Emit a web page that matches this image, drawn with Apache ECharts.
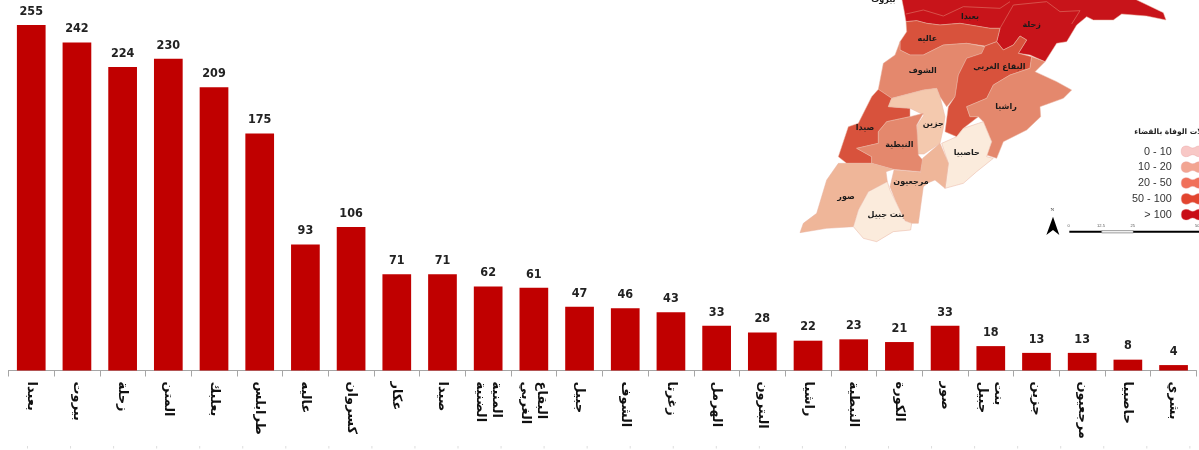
<!DOCTYPE html>
<html dir="ltr"><head><meta charset="utf-8">
<style>html,body{margin:0;padding:0;background:#fff;overflow:hidden}#c{width:1199px;height:450px}</style>
<script src="https://cdn.jsdelivr.net/npm/echarts@6/dist/echarts.min.js"></script>
</head><body><div id="c"></div>
<script>
const categories = ['بعبدا','بيروت','زحلة','المتن','بعلبك','طرابلس','عاليه','كسروان','عكار','صيدا','المنية\nالضنية','البقاع\nالغربي','جبيل','الشوف','زغرتا','الهرمل','البترون','راشيا','النبطية','الكورة','صور','بنت\nجبيل','جزين','مرجعيون','حاصبيا','بشري'];
const deaths = [255,242,224,230,209,175,93,106,71,71,62,61,47,46,43,33,28,22,23,21,33,18,13,13,8,4];

const legendLabels = ['0 - 10','10 - 20','20 - 50','50 - 100','> 100'];
const legendColors = ['#f8c8c6','#f2a592','#f0705a','#e2452f','#c90d16'];
const legendTitle = 'حالات الوفاة بالقضاء';
const scaleLabels = ['0','12.5','25','50'];

const C_RED='#c8141a', C_50='#d8523c', C_20='#e4886d', C_10='#efb699', C_J='#f4c9ae', C_0='#fbebdc';
const regions = [
 [C_RED,[305,-5,1000,-5,1090,38,1098,60,1040,48,965,42,940,60,880,60,860,50,830,75,800,125,770,130,735,185,690,165,655,160,680,120,660,108,640,135,610,150,590,125,600,85,570,85,480,70,420,75,380,70,350,62,318,65,312,30]],
 [C_50,[318,65,350,62,380,70,420,75,480,70,570,85,600,85,590,125,555,138,500,130,430,135,370,165,330,165,300,150,300,125,320,95]],
 [C_20,[300,125,300,150,330,165,370,165,430,135,500,130,555,140,545,160,500,175,475,225,465,290,440,320,420,290,410,265,370,270,275,295,235,268,250,190,285,165]],
 [C_50,[555,138,590,125,610,150,640,135,660,108,680,120,655,160,695,170,690,205,630,225,580,255,560,295,500,320,510,350,535,350,490,385,470,410,435,395,445,320,465,290,475,225,500,175,545,160]],
 [C_20,[735,185,705,215,770,245,815,270,790,295,720,320,722,350,680,390,610,425,590,475,560,465,575,425,550,365,535,350,510,350,500,320,560,295,580,255,630,225,690,205,695,170]],
 [C_0,[550,365,575,425,560,470,580,475,530,515,490,550,435,565,445,490,425,430,470,410,490,385,535,370]],
 [C_50,[235,268,275,295,265,320,330,325,330,350,260,365,235,395,235,430,170,445,215,470,215,490,140,490,115,470,145,380,175,370,215,290]],
 [C_J,[275,295,370,270,410,265,420,290,435,350,430,385,420,430,372,462,350,462,352,375,372,345,330,325,265,320]],
 [C_20,[330,350,370,340,350,375,355,465,368,480,362,515,280,508,215,490,215,470,170,445,235,430,235,395,260,365]],
 [C_10,[420,430,445,490,435,565,405,540,385,548,370,560,355,670,335,670,315,662,290,610,270,560,282,510,362,517,368,475]],
 [C_10,[115,490,140,490,215,490,280,508,258,515,262,545,205,575,175,630,160,680,80,685,0,698,10,670,50,640,80,540]],
 [C_0,[262,545,270,570,290,610,315,662,335,670,332,690,280,695,230,725,190,715,160,680,175,630,205,575]]
];
const northLines = [[318,42,370,30,430,48,490,20,600,25,630,5],[600,85,640,15,740,5,780,35,840,32,815,72]];
const mapLabels = [['بيروت',250,1],['بعبدا',510,50],['زحلة',695,75],['عاليه',382,117],['البقاع الغربي',598,200],['الشوف',368,212],['راشيا',618,320],['جزين',400,373],['صيدا',195,385],['النبطية',298,435],['حاصبيا',500,460],['مرجعيون',333,545],['صور',138,592],['بنت جبيل',258,645]];

const mx=v=>800+v/3, my=v=>v/3;
const pts=a=>{const r=[];for(let i=0;i<a.length;i+=2)r.push([mx(a[i]),my(a[i+1])]);return r;};
const arabic='"DejaVu Sans",sans-serif';
const g=[];
regions.forEach(([c,a])=>g.push({type:'polygon',shape:{points:pts(a)},style:{fill:c,stroke:'#e9b3a0',lineWidth:0.5}}));
northLines.forEach(a=>g.push({type:'polyline',shape:{points:pts(a)},style:{stroke:'#dd6a5f',lineWidth:0.7,fill:null}}));
mapLabels.forEach(([t,x,y])=>g.push({type:'text',x:mx(x),y:my(y),style:{text:t,font:'bold 8px '+arabic,fill:'#1a1a1a',align:'center',verticalAlign:'middle'}}));
g.push({type:'text',x:mx(1003),y:my(397),style:{text:legendTitle,font:'bold 7.5px '+arabic,fill:'#222',align:'left',verticalAlign:'middle'}});
legendLabels.forEach((t,i)=>{
  const y=455+i*47.5;
  g.push({type:'text',x:mx(1115),y:my(y),style:{text:t,font:'10.8px "Liberation Sans",Arial,sans-serif',fill:'#333',align:'right',verticalAlign:'middle'}});
  const yy=y-1;
  g.push({type:'polygon',shape:{smooth:0.4,points:pts([1146,yy-10,1160,yy-16,1178,yy-10,1196,yy-16,1210,yy-10,1210,yy+10,1196,yy+16,1178,yy+10,1160,yy+16,1146,yy+10])},style:{fill:legendColors[i],stroke:'#e8a0a0',lineWidth:0.4}});
});
g.push({type:'polygon',shape:{points:pts([759,650,778,705,759,690,739,705])},style:{fill:'#000'}});
g.push({type:'text',x:mx(757),y:my(628),style:{text:'N',font:'5px "Liberation Serif",serif',fill:'#333',align:'center',verticalAlign:'middle'}});
g.push({type:'rect',shape:{x:mx(808),y:my(692),width:97/3,height:2.2},style:{fill:'#000'}});
g.push({type:'rect',shape:{x:mx(905),y:my(692),width:95/3,height:2.2},style:{fill:'#fff',stroke:'#333',lineWidth:0.5}});
g.push({type:'rect',shape:{x:mx(1000),y:my(692),width:199/3,height:2.2},style:{fill:'#000'}});
[806,903,998,1192].forEach((x,i)=>g.push({type:'text',x:mx(x),y:my(677),style:{text:scaleLabels[i],font:'4px "Liberation Sans",sans-serif',fill:'#555',align:'center',verticalAlign:'middle'}}));
for(let i=0;i<28;i++)g.push({type:'rect',shape:{x:27+i*43.05,y:446,width:1,height:2.5},style:{fill:'#ddd'}});

const chart=echarts.init(document.getElementById('c'),null,{renderer:'canvas'});
chart.setOption({
  animation:false,
  grid:{left:8.4,right:2.6,top:25,bottom:79.5,containLabel:false},
  xAxis:{type:'category',data:categories,
    axisLine:{show:true,lineStyle:{color:'#a6a6a6',width:1}},
    axisTick:{show:true,alignWithLabel:false,interval:0,length:6,lineStyle:{color:'#a6a6a6',width:1}},
    axisLabel:{rotate:-90,interval:0,margin:11,color:'#111',fontFamily:'"DejaVu Sans",sans-serif',fontWeight:'bold',fontSize:13,lineHeight:16}},
  yAxis:{type:'value',min:0,max:255,show:false,splitLine:{show:false}},
  series:[{type:'bar',data:deaths,barWidth:28.7,itemStyle:{color:'#c00000'},
    label:{show:true,position:'top',distance:7,color:'#222',fontFamily:'"DejaVu Sans Condensed","Liberation Sans",sans-serif',fontWeight:'bold',fontSize:12.5}}],
  graphic:g
});
</script></body></html>
